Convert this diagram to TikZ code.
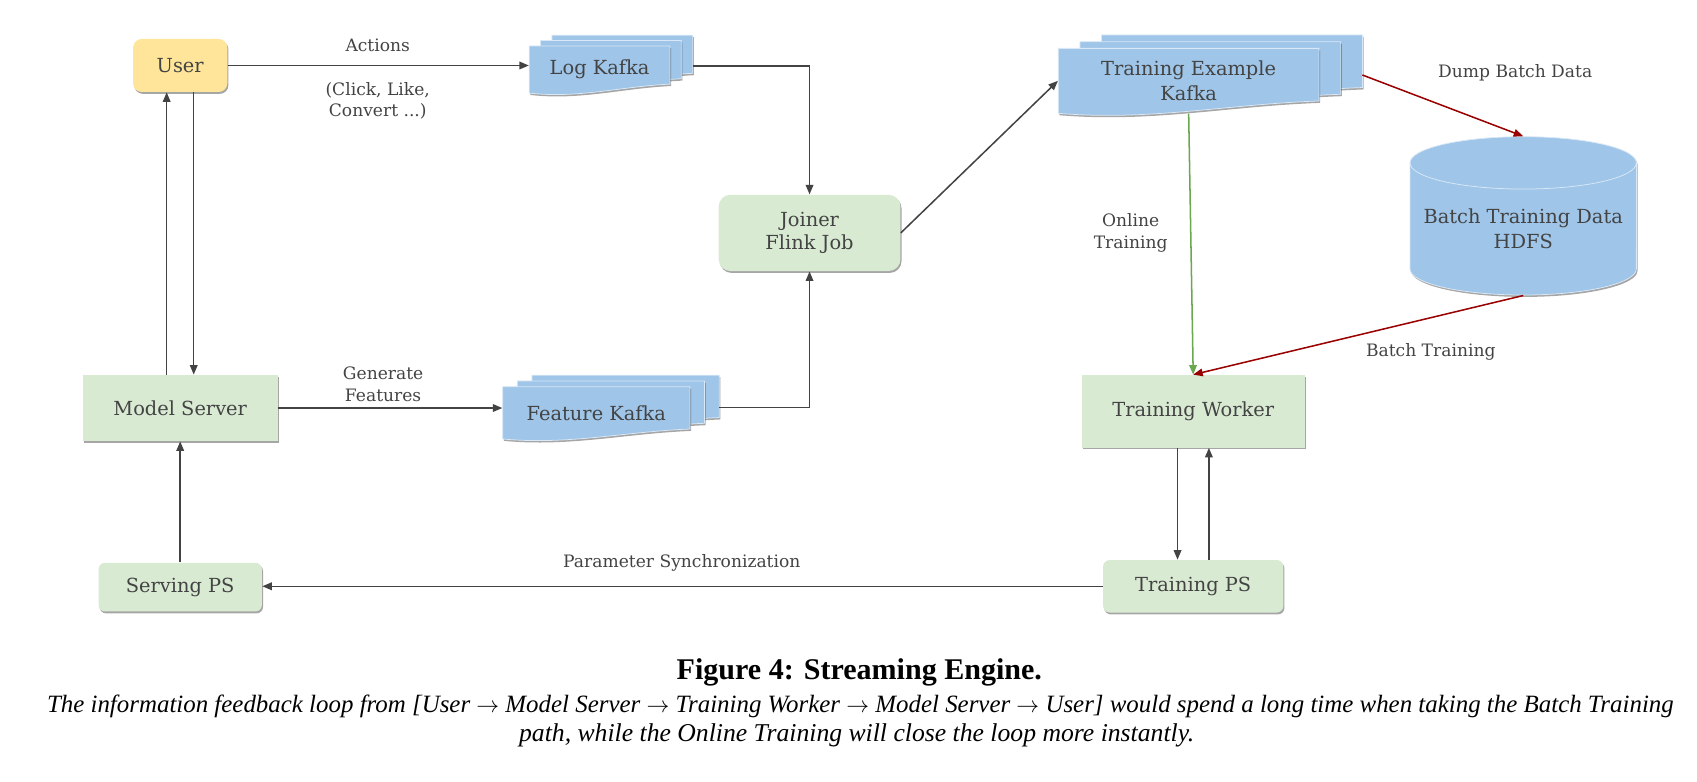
\documentclass[tikz,border=0pt]{standalone}
\usepackage{fontspec}
\setmainfont{DejaVu Serif}
\newfontfamily\capfont{Liberation Serif}
\usetikzlibrary{arrows.meta,shadows}

\definecolor{txtgray}{HTML}{434343}
\definecolor{linegray}{HTML}{434343}
\definecolor{boxgreen}{HTML}{D9EAD3}
\definecolor{boxyellow}{HTML}{FFE599}
\definecolor{kafkablue}{HTML}{9FC5E8}
\definecolor{batchred}{HTML}{990000}
\definecolor{onlinegreen}{HTML}{6AA84F}

\tikzset{
  softshadow/.style={drop shadow={shadow xshift=0.6pt,shadow yshift=-1pt,opacity=0.35,fill=black}},
  box/.style={fill=#1, text=txtgray, font=\fontsize{10.2}{12.5}\selectfont, align=center, inner sep=0pt, softshadow},
  sheet/.style={fill=kafkablue, draw=white!60!kafkablue, line width=0.4pt, softshadow},
  sheettext/.style={text=txtgray, font=\fontsize{10.2}{13}\selectfont, align=center, inner sep=0pt},
  lbl/.style={text=txtgray, font=\fontsize{9}{11.4}\selectfont, align=center},
  flow/.style={draw=linegray, line width=0.8pt, -{Triangle[length=5pt,width=4pt]}},
}

% one sheet of a kafka stack: x, y (top left), width, height
\newcommand{\kafkasheet}[4]{%
  \draw[sheet] ({#1},{#2}) -- ++({#3},0) -- ++(0,{0.81*#4})
    .. controls +({-0.35*#3},{0.05*#4}) and +({0.35*#3},{0.12*#4}) .. ++({-#3},{0.19*#4}) -- cycle;}
% three sheets, back to front: x, y, width, height, dx, dy
\newcommand{\kafkastack}[6]{%
  \kafkasheet{#1+2*(#5)}{#2+2*(#6)}{#3}{#4}
  \kafkasheet{#1+#5}{#2+(#6)}{#3}{#4}
  \kafkasheet{#1}{#2}{#3}{#4}}

\begin{document}
\begin{tikzpicture}[x=0.02cm, y=-0.02cm]
\useasboundingbox (0,0) rectangle (1568,722);

% boxes
\node[box=boxyellow, rounded corners=0.16cm, minimum width=1.74cm, minimum height=0.98cm] (user) at (166.5,60.5) {User};
\node[box=boxgreen, minimum width=3.6cm, minimum height=1.22cm] (modelserver) at (166.5,377) {Model Server};
\node[box=boxgreen, rounded corners=0.12cm, minimum width=3.02cm, minimum height=0.9cm] (servingps) at (166.5,542.5) {Serving PS};
\node[box=boxgreen, rounded corners=0.22cm, minimum width=3.36cm, minimum height=1.41cm] (joiner) at (748,215.2) {Joiner\\Flink Job};
\node[box=boxgreen, minimum width=4.12cm, minimum height=1.34cm] (trainworker) at (1102.5,380) {Training Worker};
\node[box=boxgreen, rounded corners=0.12cm, minimum width=3.33cm, minimum height=0.97cm] (trainps) at (1102.5,541.7) {Training PS};

% kafka stacks
\kafkastack{489}{42.5}{130}{43.5}{10.5}{-5}
\kafkastack{464.5}{357.3}{173}{48.3}{13.5}{-5.3}
\kafkastack{977.8}{44.7}{241}{60}{20}{-6.2}
\node[sheettext, minimum width=2.6cm, minimum height=0.87cm] (logk) at (554,64.3) {Log Kafka};
\node[sheettext, minimum width=3.46cm, minimum height=0.97cm] (featk) at (551,381.4) {Feature Kafka};
\node[sheettext, minimum width=4.82cm, minimum height=1.2cm] (tek) at (1098.3,74.7) {Training Example\\Kafka};
\coordinate (logkout) at (640,61);
\coordinate (featkout) at (664.5,376.7);
\coordinate (tekout) at (1258.8,69.3);

% hdfs cylinder
\draw[sheet] (1302.8,150.5) -- (1302.8,248.4) arc[start angle=180,end angle=360,x radius=2.092cm,y radius=0.484cm]
  -- (1512,150.5) arc[start angle=0,end angle=180,x radius=2.092cm,y radius=0.484cm] -- cycle;
\draw[white!60!kafkablue, line width=0.4pt] (1302.8,150.5) arc[start angle=180,end angle=360,x radius=2.092cm,y radius=0.484cm];
\node[inner sep=0pt, minimum width=4.18cm, minimum height=2.93cm] (hdfs) at (1407.4,199.5) {};
\node[sheettext] (hdfstext) at (1407.4,211.6) {Batch Training Data\\HDFS};

% connectors
\draw[flow] (user.east) -- (user.east -| logk.west);
\draw[flow] (logkout) -| (joiner.north);
\draw[flow] (modelserver.east) -- (modelserver.east -| featk.west);
\draw[flow] (featkout) -| (joiner.south);
\draw[flow] (joiner.east) -- (tek.west);
\draw[flow, draw=batchred] (tekout) -- (hdfs.north);
\draw[flow, draw=onlinegreen] (tek.south) -- (trainworker.north);
\draw[flow, draw=batchred] (hdfs.south) -- (trainworker.north);
\draw[flow] ([xshift=-0.25cm]modelserver.north) -- ([xshift=-0.25cm]user.south);
\draw[flow] ([xshift=0.25cm]user.south) -- ([xshift=0.25cm]modelserver.north);
\draw[flow] (servingps.north) -- (modelserver.south);
\draw[flow] ([xshift=-0.29cm]trainworker.south) -- ([xshift=-0.29cm]trainps.north);
\draw[flow] ([xshift=0.29cm]trainps.north) -- ([xshift=0.29cm]trainworker.south);
\draw[flow] (trainps.west) -- (trainps.west -| servingps.east);

% labels
\node[lbl] (actions) at (349,41.6) {Actions};
\node[lbl] (clicks) at (349,93.2) {(Click, Like,\\Convert ...)};
\node[lbl] (genfeat) at (354,355) {Generate\\Features};
\node[lbl] (paramsync) at (630,520) {Parameter Synchronization};
\node[lbl] (online) at (1044.7,215.5) {Online\\Training};
\node[lbl] (dump) at (1400,67.7) {Dump Batch Data};
\node[lbl] (batchtrain) at (1322,325) {Batch Training};

% caption
\node[font=\capfont\bfseries\fontsize{15.8}{18}\selectfont] (figtitle) at (794,621) {Figure 4: Streaming Engine.};
\node[font=\capfont\itshape\fontsize{13.1}{16}\selectfont] (figline1) at (795,652.4) {The information feedback loop from [User $\rightarrow$ Model Server $\rightarrow$ Training Worker $\rightarrow$ Model Server $\rightarrow$ User] would spend a long time when taking the Batch Training};
\node[font=\capfont\itshape\fontsize{13.5}{16}\selectfont] (figline2) at (791.5,679) {path, while the Online Training will close the loop more instantly.};
\end{tikzpicture}
\end{document}
